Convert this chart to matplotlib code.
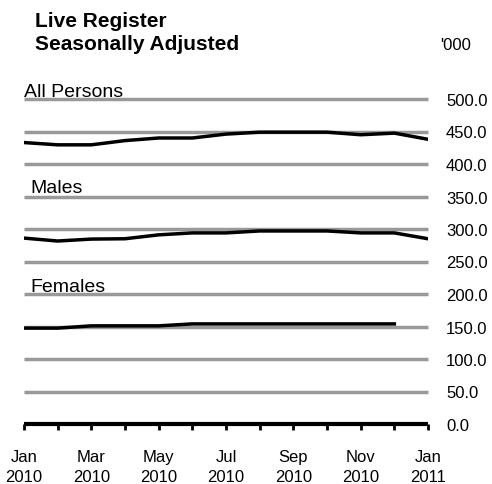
import matplotlib
matplotlib.use('Agg')
import matplotlib.pyplot as plt

plt.rcParams['font.family'] = ['Liberation Sans', 'DejaVu Sans']

# months Jan 2010 .. Jan 2011
months = ['Jan\n2010', 'Feb', 'Mar\n2010', 'Apr', 'May\n2010', 'Jun', 'Jul\n2010',
          'Aug', 'Sep\n2010', 'Oct', 'Nov\n2010', 'Dec', 'Jan\n2011']
all_persons = [433, 429.5, 429.5, 436, 440, 440, 446, 449, 449, 449, 445, 447.5, 438]
males = [286, 281.5, 284.5, 285, 291, 294, 294, 297, 297, 297, 294, 294, 285]
females = [147.5, 147.5, 151, 151, 151, 154, 154, 154, 154, 154, 154, 154]
yticks = [0, 50, 100, 150, 200, 250, 300, 350, 400, 450, 500]

fig = plt.figure(figsize=(4.92, 4.85), dpi=100)
ax = fig.add_axes([24/492, 1-425/485, 404/492, 325/485])

x = list(range(len(months)))
for v in yticks[1:]:
    ax.plot([0, 12], [v, v], color='#999999', lw=2.5, solid_capstyle='butt', zorder=1, clip_on=False)
ax.plot([0, 12], [0, 0], color='black', lw=3, solid_capstyle='butt', zorder=3, clip_on=False)

ax.plot(x, all_persons, color='black', lw=2.5, zorder=4)
ax.plot(x, males, color='black', lw=2.5, zorder=4)
ax.plot(x[:len(females)], females, color='black', lw=2.5, zorder=4)

ax.set_xlim(0, 12)
ax.set_ylim(0, 500)
for s in ax.spines.values():
    s.set_visible(False)

ax.set_xticks(x)
ax.set_xticklabels([m if '\n' in m else '' for m in months], fontsize=12, linespacing=1.4)
ax.tick_params(axis='x', length=4, width=2, color='black', direction='out', pad=14)

ax.yaxis.tick_right()
ax.set_yticks(yticks)
ax.set_yticklabels(['%.1f' % v for v in yticks], fontsize=12)
ax.tick_params(axis='y', length=0, pad=13)

ax.text(0.0, 505, 'All Persons', fontsize=14, ha='left', va='baseline')
ax.text(0.2, 357, 'Males', fontsize=14, ha='left', va='baseline')
ax.text(0.18, 205, 'Females', fontsize=14, ha='left', va='baseline')

fig.text(35/492, 1-27/485, 'Live Register', fontsize=15, fontweight='bold', ha='left', va='baseline')
fig.text(35/492, 1-50/485, 'Seasonally Adjusted', fontsize=15, fontweight='bold', ha='left', va='baseline')
fig.text(440/492, 1-50/485, "'000", fontsize=12, ha='left', va='baseline')

fig.savefig('out.png', dpi=100)
